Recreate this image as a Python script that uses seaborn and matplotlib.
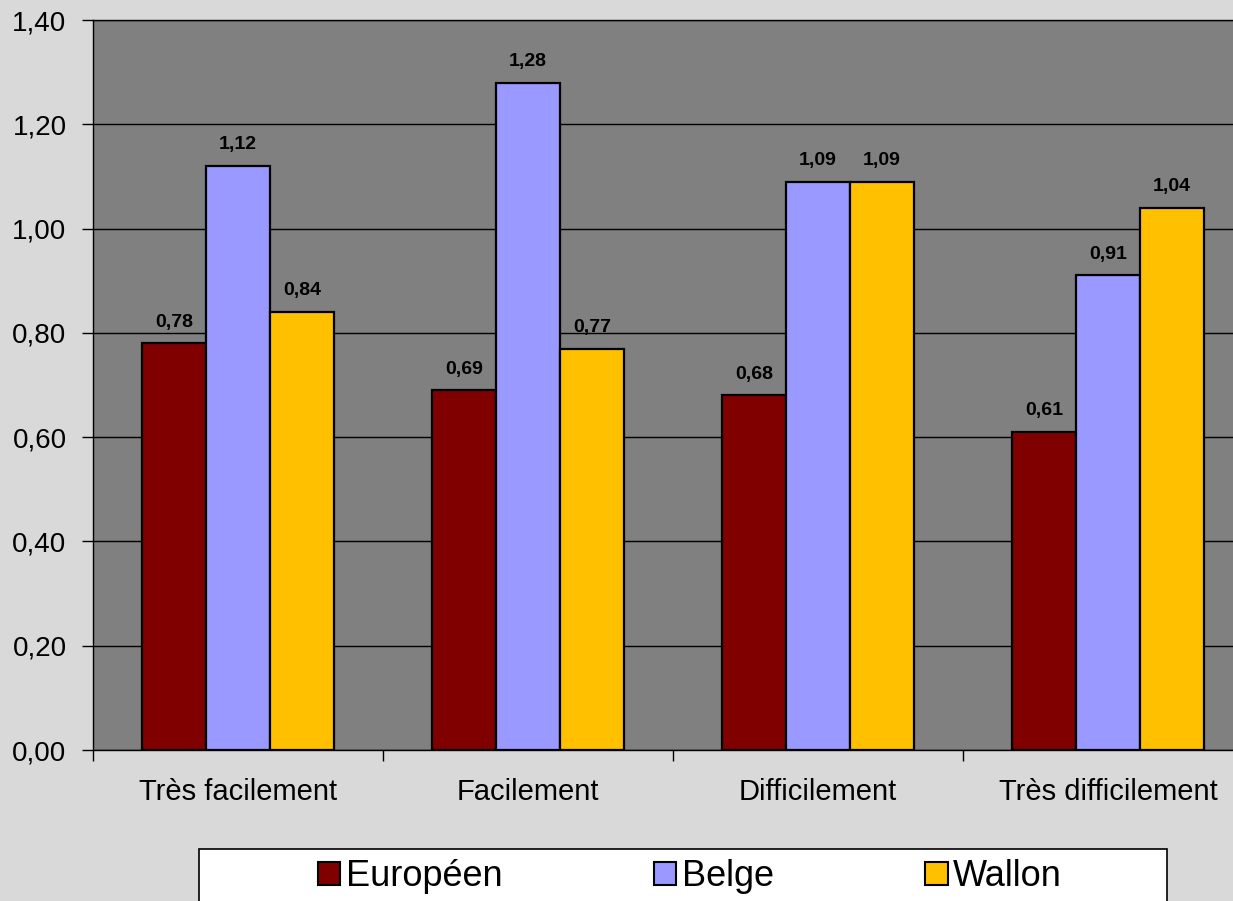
import pandas as pd
import matplotlib
matplotlib.use("Agg")
import matplotlib.pyplot as plt
from matplotlib.patches import Rectangle
from matplotlib.ticker import FuncFormatter, FixedLocator
import seaborn as sns

# data
categories = ["Très facilement", "Facilement", "Difficilement", "Très difficilement"]
series = ["Européen", "Belge", "Wallon"]
europeen = [0.78, 0.69, 0.68, 0.61]
belge = [1.12, 1.28, 1.09, 0.91]
wallon = [0.84, 0.77, 1.09, 1.04]
colors = ["#800000", "#9999FF", "#FFC000"]

df = pd.DataFrame({
    "cat": categories * 3,
    "serie": [s for s in series for _ in categories],
    "val": europeen + belge + wallon,
})

sns.set_style("white")
plt.rcParams["font.family"] = ["Liberation Sans", "DejaVu Sans"]
plt.rcParams["text.color"] = "black"
plt.rcParams["xtick.color"] = "black"
plt.rcParams["ytick.color"] = "black"

fig = plt.figure(figsize=(12.33, 9.01), dpi=100)
fig.patch.set_facecolor("#d9d9d9")
ax = fig.add_axes([93/1233, 151/901, 1160/1233, 730/901])
ax.set_facecolor("#808080")

sns.barplot(data=df, x="cat", y="val", hue="serie", hue_order=series,
            order=categories, palette=colors, width=0.662, gap=0,
            edgecolor="black", linewidth=1.6, saturation=1, ax=ax,
            legend=False)

for cont, vals in zip(ax.containers, [europeen, belge, wallon]):
    ax.bar_label(cont, labels=[f"{v:.2f}".replace(".", ",") for v in vals],
                 padding=9, fontsize=14, fontweight="bold", color="black")

ax.set_xlim(-0.5, 3.5)
ax.set_ylim(0, 1.4)
ax.set_yticks([0, 0.2, 0.4, 0.6, 0.8, 1.0, 1.2, 1.4])
ax.yaxis.set_major_formatter(FuncFormatter(lambda v, p: f"{v:.2f}".replace(".", ",")))
ax.yaxis.grid(True, color="black", lw=1)
ax.set_axisbelow(True)
ax.tick_params(axis="y", left=True, length=8, width=1, color="black",
               labelsize=20, pad=11, labelcolor="black")
ax.tick_params(axis="x", which="major", length=0, labelsize=21, pad=20,
               labelcolor="black")
ax.xaxis.set_minor_locator(FixedLocator([-0.5, 0.5, 1.5, 2.5, 3.5]))
ax.tick_params(axis="x", which="minor", bottom=True, length=8, width=1, color="black")
ax.set_xlabel("")
ax.set_ylabel("")
for side in ["left", "bottom", "top"]:
    ax.spines[side].set_color("black")
    ax.spines[side].set_linewidth(1)
ax.spines["right"].set_visible(False)

# legend
fig.patches.append(Rectangle((199/1233, -0.01), 968/1233, (901-849)/901 + 0.01,
                             transform=fig.transFigure, facecolor="white",
                             edgecolor="black", lw=1.2, zorder=1))
handles = [Rectangle((0, 0), 1, 1, facecolor=c, edgecolor="black", lw=1.5) for c in colors]
leg = fig.legend(handles, series, loc="center", bbox_to_anchor=(690/1233, 24/901),
                 ncol=3, frameon=False, handlelength=0.62,
                 handleheight=0.62, handletextpad=0.15, columnspacing=4.2,
                 prop={"family": ["Liberation Sans", "DejaVu Sans"], "size": 26})

fig.savefig("out.png", dpi=100, facecolor=fig.get_facecolor())
